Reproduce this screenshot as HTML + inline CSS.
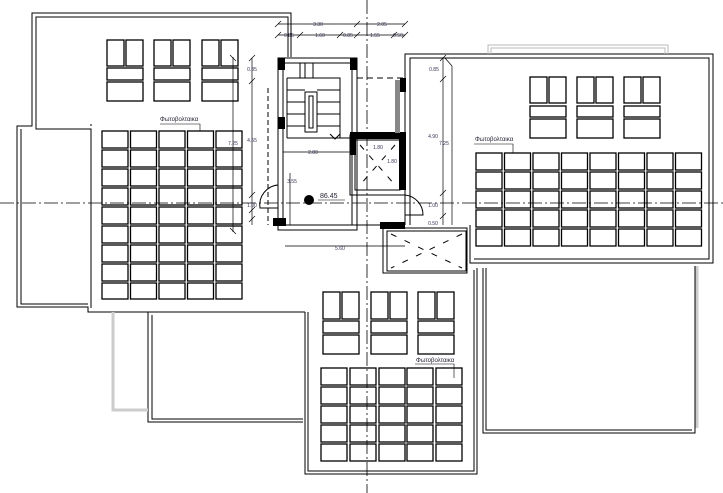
<!DOCTYPE html>
<html><head><meta charset="utf-8"><style>
html,body{margin:0;padding:0;background:#fff;}
svg{display:block;}
text{font-family:"Liberation Sans",sans-serif;}
</style></head><body>
<svg width="723" height="493" viewBox="0 0 723 493" xmlns="http://www.w3.org/2000/svg">
<g fill="none" stroke="#000" stroke-width="1">
<!-- left block -->
<path d="M291,57 V13 H32 V126 H17 V307 H88 V312 H305"/>
<path d="M288,57 V17 H36 V129 H91 V308"/>
<path d="M21,129 V304 H88"/>
<path d="M91,126 V124"/>
<!-- lower left rect -->
<path d="M148,312 V422 H303"/>
<path d="M152,315 V419 H303"/>
<path d="M113,312 V410 H148" stroke="#ccc" stroke-width="3"/>
<!-- center block -->
<path d="M305,312 V474 H477 V268"/>
<path d="M308,312 V471 H474 V270"/>
<!-- right block -->
<path d="M405,225 V54 H713 V263 H470 V225"/>
<path d="M410,225 V58 H709 V259 H474"/>
<path d="M488,54 V45 H668 V54 M491,54 V48 H665 V54" stroke="#bbb"/>
<!-- lower right rect -->
<path d="M483,268 V433 H695 V266"/>
<path d="M486,268 V430 H692"/>
<path d="M697,266 V428" stroke="#ccc" stroke-width="3"/>
<!-- stair -->
<rect x="278" y="58" width="79" height="172"/>
<rect x="283" y="63" width="69" height="162"/>
<rect x="305" y="92" width="12" height="40"/>
<rect x="309" y="96" width="4" height="32"/>
<path d="M287,78 H340 V138 M287,78 V138 M295,78 H330 M300,63 V78 M305,63 V78 M313,63 V78 M287,90 H305 M287,102 H305 M287,114 H305 M287,126 H305 M317,90 H340 M317,102 H340 M317,114 H340 M317,126 H340 M287,138 H352"/>
<path d="M330,134 L335,139 L340,134"/>
<rect x="350" y="135" width="55" height="60" fill="none"/>
<rect x="355" y="140" width="45" height="50"/>
<path d="M360,145 L395,185 M395,145 L360,185" stroke-dasharray="6,8"/>
<rect x="383" y="228" width="84" height="45"/>
<rect x="387" y="231" width="79" height="40"/>
<path d="M391,234 L462,268 M462,234 L391,268" stroke-dasharray="6,9"/>
<path d="M357,78 H405" stroke-dasharray="6,4"/>
<path d="M268,88 V225" stroke-dasharray="5,3"/>
<!-- doors -->
<path d="M278,185 A20,20 0 0 0 260,208 H278"/>
<path d="M405,195 A20,20 0 0 1 423,215 H405"/>
<path d="M283,225 H405"/>
<!-- dims -->
<g stroke-width="0.7">
<path d="M278,24 H405 M278,35 H405 M275,27 l6,-6 M354,27 l6,-6 M402,27 l6,-6 M275,38 l6,-6 M297,38 l6,-6 M337,38 l6,-6 M354,38 l6,-6 M391,38 l6,-6 M402,38 l6,-6"/>
<path d="M252,58 V225 M249,61 l6,-6 M249,84 l6,-6 M249,198 l6,-6 M249,213 l6,-6 M249,222 l6,-6"/>
<path d="M233,57 V232 M230,55 l6,6 M230,228 l6,6"/>
<path d="M443,58 V225 M440,61 l6,-6 M440,82 l6,-6 M440,196 l6,-6 M440,219 l6,-6"/>
<path d="M445,58 L452,66 M452,66 V225"/>
<path d="M283,152 H352 M285,246 H405 M290,173 V225"/>
</g>
</g>
<!-- dash dot axes -->
<path d="M0,203 H723" stroke="#000" stroke-width="0.8" stroke-dasharray="14,3,2,3"/>
<path d="M367,0 V493" stroke="#000" stroke-width="0.8" stroke-dasharray="14,3,2,3"/>
<!-- thick walls -->
<g fill="#000">
<rect x="278" y="58" width="7" height="12"/><rect x="350" y="58" width="7" height="12"/>
<rect x="278" y="117" width="7" height="12"/>
<rect x="350" y="132" width="55" height="7"/>
<rect x="350" y="132" width="6" height="23"/>
<rect x="400" y="78" width="6" height="14"/>
<rect x="399" y="132" width="7" height="58"/>
<rect x="273" y="218" width="13" height="8"/>
<rect x="380" y="222" width="25" height="7"/>
<circle cx="309" cy="200" r="5"/>
</g>
<rect x="395" y="80" width="5" height="53" fill="#888"/>
<!-- dim text -->
<g font-size="5" fill="#335" text-anchor="middle">
<text x="318" y="26">3.30</text><text x="382" y="26">2.05</text>
<text x="289" y="37">0.85</text><text x="320" y="37">1.60</text><text x="348" y="37">0.85</text><text x="375" y="37">1.55</text><text x="398" y="37">0.50</text>
<text x="252" y="71">0.85</text><text x="252" y="142">4.65</text><text x="233" y="145">7.25</text><text x="252" y="207">1.00</text>
<text x="313" y="154">2.80</text><text x="292" y="183">3.55</text><text x="340" y="250">5.60</text>
<text x="378" y="149">1.80</text><text x="392" y="163">1.80</text>
<text x="434" y="71">0.85</text><text x="433" y="138">4.90</text><text x="444" y="145">7.25</text><text x="433" y="207">1.00</text><text x="433" y="225">0.50</text>
</g>
<text x="320" y="198" font-size="7" fill="#223">86.45</text>
<path d="M318,200 H345" stroke="#000" stroke-width="0.6"/>
<!-- labels -->
<g font-size="6" fill="#223">
<text x="160" y="121">Φωτοβολταικα</text>
<text x="475" y="141">Φωτοβολταικα</text>
<text x="416" y="362">Φωτοβολταικα</text>
</g>
<path d="M160,124 H200 V131 M474,144 H513 V153 M415,364 H454 V378" stroke="#000" stroke-width="0.6" fill="none"/>
<!-- panels -->
<g fill="none" stroke="#000" stroke-width="1.3" id="p">
<!-- left top groups -->
<rect x="107" y="40" width="17" height="26"/><rect x="126" y="40" width="17" height="26"/><rect x="107" y="68" width="36" height="12"/><rect x="107" y="82" width="36" height="19"/>
<rect x="154" y="40" width="17" height="26"/><rect x="173" y="40" width="17" height="26"/><rect x="154" y="68" width="36" height="12"/><rect x="154" y="82" width="36" height="19"/>
<rect x="202" y="40" width="17" height="26"/><rect x="221" y="40" width="17" height="26"/><rect x="202" y="68" width="36" height="12"/><rect x="202" y="82" width="36" height="19"/>
<!-- right top groups -->
<rect x="530" y="77" width="17" height="26"/><rect x="549" y="77" width="17" height="26"/><rect x="530" y="106" width="36" height="11"/><rect x="530" y="119" width="36" height="19"/>
<rect x="577" y="77" width="17" height="26"/><rect x="596" y="77" width="17" height="26"/><rect x="577" y="106" width="36" height="11"/><rect x="577" y="119" width="36" height="19"/>
<rect x="624" y="77" width="17" height="26"/><rect x="643" y="77" width="17" height="26"/><rect x="624" y="106" width="36" height="11"/><rect x="624" y="119" width="36" height="19"/>
<!-- center top groups -->
<rect x="323" y="292" width="17" height="27"/><rect x="342" y="292" width="17" height="27"/><rect x="323" y="321" width="36" height="12"/><rect x="323" y="335" width="36" height="19"/>
<rect x="371" y="292" width="17" height="27"/><rect x="390" y="292" width="17" height="27"/><rect x="371" y="321" width="36" height="12"/><rect x="371" y="335" width="36" height="19"/>
<rect x="418" y="292" width="17" height="27"/><rect x="437" y="292" width="17" height="27"/><rect x="418" y="321" width="36" height="12"/><rect x="418" y="335" width="36" height="19"/>
</g>
<g fill="none" stroke="#000" stroke-width="1.3">
<script>/* none */</script>
</g>
<g id="grids" fill="none" stroke="#000" stroke-width="1.3">
<!-- left grid 5x9 -->
<rect x="102" y="131" width="26" height="17"/><rect x="130.5" y="131" width="26" height="17"/><rect x="159" y="131" width="26" height="17"/><rect x="187.5" y="131" width="26" height="17"/><rect x="216" y="131" width="26" height="17"/>
<rect x="102" y="150" width="26" height="17"/><rect x="130.5" y="150" width="26" height="17"/><rect x="159" y="150" width="26" height="17"/><rect x="187.5" y="150" width="26" height="17"/><rect x="216" y="150" width="26" height="17"/>
<rect x="102" y="169" width="26" height="17"/><rect x="130.5" y="169" width="26" height="17"/><rect x="159" y="169" width="26" height="17"/><rect x="187.5" y="169" width="26" height="17"/><rect x="216" y="169" width="26" height="17"/>
<rect x="102" y="188" width="26" height="17"/><rect x="130.5" y="188" width="26" height="17"/><rect x="159" y="188" width="26" height="17"/><rect x="187.5" y="188" width="26" height="17"/><rect x="216" y="188" width="26" height="17"/>
<rect x="102" y="207" width="26" height="17"/><rect x="130.5" y="207" width="26" height="17"/><rect x="159" y="207" width="26" height="17"/><rect x="187.5" y="207" width="26" height="17"/><rect x="216" y="207" width="26" height="17"/>
<rect x="102" y="226" width="26" height="17"/><rect x="130.5" y="226" width="26" height="17"/><rect x="159" y="226" width="26" height="17"/><rect x="187.5" y="226" width="26" height="17"/><rect x="216" y="226" width="26" height="17"/>
<rect x="102" y="245" width="26" height="17"/><rect x="130.5" y="245" width="26" height="17"/><rect x="159" y="245" width="26" height="17"/><rect x="187.5" y="245" width="26" height="17"/><rect x="216" y="245" width="26" height="17"/>
<rect x="102" y="264" width="26" height="17"/><rect x="130.5" y="264" width="26" height="17"/><rect x="159" y="264" width="26" height="17"/><rect x="187.5" y="264" width="26" height="17"/><rect x="216" y="264" width="26" height="17"/>
<rect x="102" y="283" width="26" height="16"/><rect x="130.5" y="283" width="26" height="16"/><rect x="159" y="283" width="26" height="16"/><rect x="187.5" y="283" width="26" height="16"/><rect x="216" y="283" width="26" height="16"/>
<!-- right grid 8x5 -->
<rect x="476" y="153" width="26" height="17"/><rect x="504.5" y="153" width="26" height="17"/><rect x="533" y="153" width="26" height="17"/><rect x="561.5" y="153" width="26" height="17"/><rect x="590" y="153" width="26" height="17"/><rect x="618.5" y="153" width="26" height="17"/><rect x="647" y="153" width="26" height="17"/><rect x="675.5" y="153" width="26" height="17"/>
<rect x="476" y="172" width="26" height="17"/><rect x="504.5" y="172" width="26" height="17"/><rect x="533" y="172" width="26" height="17"/><rect x="561.5" y="172" width="26" height="17"/><rect x="590" y="172" width="26" height="17"/><rect x="618.5" y="172" width="26" height="17"/><rect x="647" y="172" width="26" height="17"/><rect x="675.5" y="172" width="26" height="17"/>
<rect x="476" y="191" width="26" height="17"/><rect x="504.5" y="191" width="26" height="17"/><rect x="533" y="191" width="26" height="17"/><rect x="561.5" y="191" width="26" height="17"/><rect x="590" y="191" width="26" height="17"/><rect x="618.5" y="191" width="26" height="17"/><rect x="647" y="191" width="26" height="17"/><rect x="675.5" y="191" width="26" height="17"/>
<rect x="476" y="210" width="26" height="17"/><rect x="504.5" y="210" width="26" height="17"/><rect x="533" y="210" width="26" height="17"/><rect x="561.5" y="210" width="26" height="17"/><rect x="590" y="210" width="26" height="17"/><rect x="618.5" y="210" width="26" height="17"/><rect x="647" y="210" width="26" height="17"/><rect x="675.5" y="210" width="26" height="17"/>
<rect x="476" y="229" width="26" height="17"/><rect x="504.5" y="229" width="26" height="17"/><rect x="533" y="229" width="26" height="17"/><rect x="561.5" y="229" width="26" height="17"/><rect x="590" y="229" width="26" height="17"/><rect x="618.5" y="229" width="26" height="17"/><rect x="647" y="229" width="26" height="17"/><rect x="675.5" y="229" width="26" height="17"/>
<!-- center grid 5x5 -->
<rect x="321" y="368" width="26" height="17"/><rect x="350" y="368" width="26" height="17"/><rect x="379" y="368" width="26" height="17"/><rect x="407" y="368" width="26" height="17"/><rect x="436" y="368" width="26" height="17"/>
<rect x="321" y="387" width="26" height="17"/><rect x="350" y="387" width="26" height="17"/><rect x="379" y="387" width="26" height="17"/><rect x="407" y="387" width="26" height="17"/><rect x="436" y="387" width="26" height="17"/>
<rect x="321" y="406" width="26" height="17"/><rect x="350" y="406" width="26" height="17"/><rect x="379" y="406" width="26" height="17"/><rect x="407" y="406" width="26" height="17"/><rect x="436" y="406" width="26" height="17"/>
<rect x="321" y="425" width="26" height="17"/><rect x="350" y="425" width="26" height="17"/><rect x="379" y="425" width="26" height="17"/><rect x="407" y="425" width="26" height="17"/><rect x="436" y="425" width="26" height="17"/>
<rect x="321" y="444" width="26" height="17"/><rect x="350" y="444" width="26" height="17"/><rect x="379" y="444" width="26" height="17"/><rect x="407" y="444" width="26" height="17"/><rect x="436" y="444" width="26" height="17"/>
</g>
</svg>
</body></html>
